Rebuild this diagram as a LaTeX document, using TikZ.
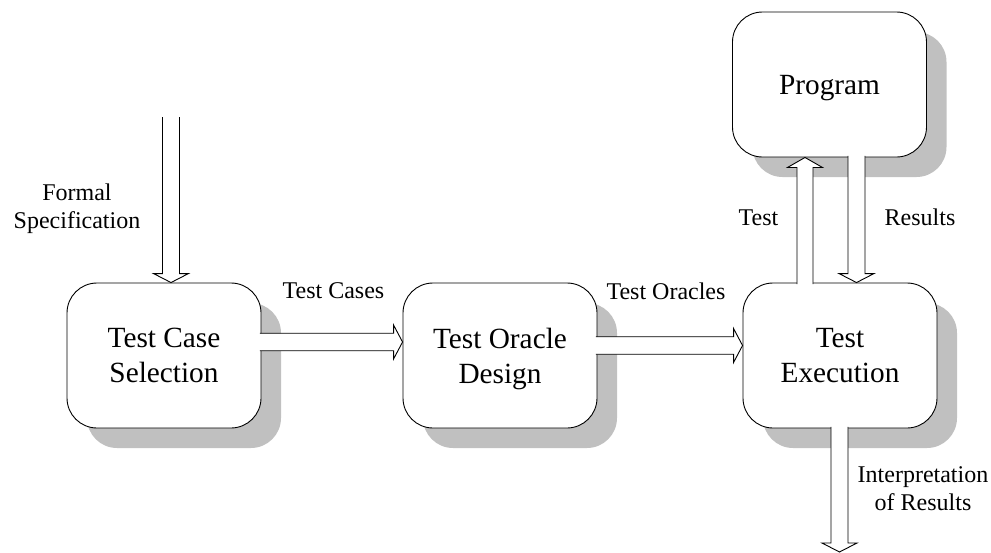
\documentclass[tikz,border=0pt]{standalone}
\usepackage{fontspec}
\setmainfont{Liberation Serif}
\usetikzlibrary{calc,shadows}
\definecolor{shadowgray}{RGB}{192,192,192}
\tikzset{
  procbox/.style={draw, line width=0.9pt, fill=white, rounded corners=30pt,
    minimum width=194pt, minimum height=145pt, inner sep=0pt, align=center,
    text depth=0pt,
    font=\fontsize{29.3}{35}\selectfont,
    drop shadow={shadow xshift=20pt, shadow yshift=-20pt, fill=shadowgray, opacity=1}},
  lbl/.style={font=\fontsize{24}{28.5}\selectfont, align=center, inner sep=0pt},
  blockarrow/.style={draw, fill=white, line width=0.9pt, line join=miter}
}
\newcommand{\arrowright}[2]{%
  \draw[blockarrow] ($(#1)+(0,-8.75)$) -- ($(#2)+(-9,-8.75)$) -- ($(#2)+(-9,-17)$) -- (#2)
    -- ($(#2)+(-9,17)$) -- ($(#2)+(-9,8.75)$) -- ($(#1)+(0,8.75)$);}
\newcommand{\arrowdown}[2]{%
  \draw[blockarrow] ($(#1)+(-8.5,0)$) -- ($(#2)+(-8.5,-9)$) -- ($(#2)+(-17.5,-9)$) -- (#2)
    -- ($(#2)+(17.5,-9)$) -- ($(#2)+(8.5,-9)$) -- ($(#1)+(8.5,0)$);}
\newcommand{\arrowup}[2]{%
  \draw[blockarrow] ($(#1)+(-8,0)$) -- ($(#2)+(-8,10)$) -- ($(#2)+(-17.5,10)$) -- (#2)
    -- ($(#2)+(17.5,10)$) -- ($(#2)+(8,10)$) -- ($(#1)+(8,0)$);}
\begin{document}
\begin{tikzpicture}[x=1pt,y=-1pt]
\useasboundingbox (0,0) rectangle (991,552);

% boxes
\node[procbox] (b1) at (164,355.5) {Test Case\\Selection};
\node[procbox] (b2) at (500,355.5) {Test Oracle\\Design};
\node[procbox] (b3) at (840,355.5) {Test\\Execution};
\node[procbox] (prog) at (829.5,84.5) {Program};

% free ends
\coordinate (fs) at (171,117);
\coordinate (ir) at (839.5,552);

% arrow end points
\coordinate (a1s) at ($(b1.east)+(-1.5,-13.5)$);
\coordinate (a1e) at ($(b2.west)+(0,-13.5)$);
\coordinate (a2s) at ($(b2.east)+(-1.5,-10)$);
\coordinate (a2e) at ($(b3.west)+(0,-10)$);
\coordinate (a3s) at ($(b3.north)+(-35,1.5)$);
\coordinate (a3e) at ($(prog.south)+(-24.5,0)$);
\coordinate (a4s) at ($(prog.south)+(27,-1.5)$);
\coordinate (a4e) at ($(b3.north)+(16.5,0)$);
\coordinate (a5s) at ($(b3.south)+(-0.5,-1.5)$);
\coordinate (a6e) at ($(b1.north)+(7,0)$);

% arrows
\arrowdown{fs}{a6e}
\arrowright{a1s}{a1e}
\arrowright{a2s}{a2e}
\arrowup{a3s}{a3e}
\arrowdown{a4s}{a4e}
\arrowdown{a5s}{ir}

% labels
\node[lbl] (lfs) at (77,208.9) {Formal\\Specification};
\node[lbl, anchor=base] (ltc) at (333.5,298) {Test Cases};
\node[lbl, anchor=base] (lto) at (666,299) {Test Oracles};
\node[lbl, anchor=base] (lt) at (758.5,225) {Test};
\node[lbl, anchor=base] (lr) at (920,225) {Results};
\node[lbl] (lir) at (923,488.7) {Interpretation\\of Results};
\end{tikzpicture}
\end{document}
